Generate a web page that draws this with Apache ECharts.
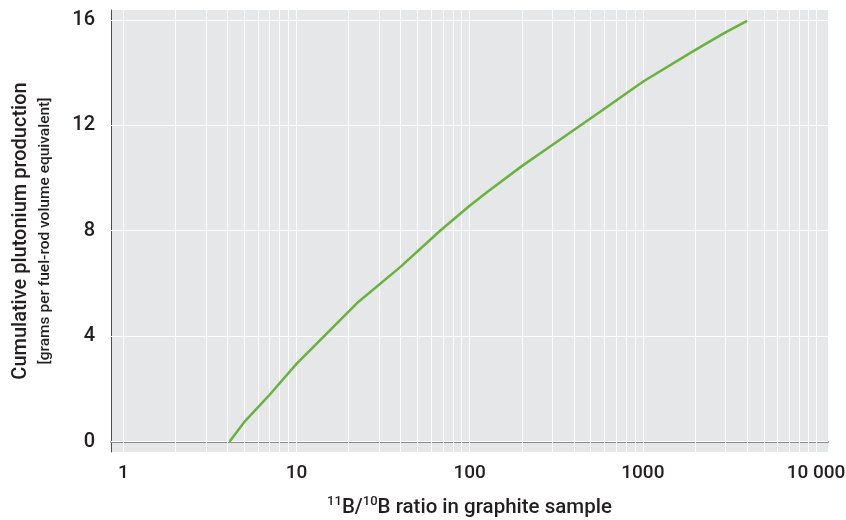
<!DOCTYPE html>
<html>
<head>
<meta charset="utf-8">
<title>Cumulative plutonium production</title>
<script src="https://cdn.jsdelivr.net/npm/echarts@6/dist/echarts.min.js"></script>
<style>
	html, body { margin: 0; padding: 0; background: #fff; }
	#chart { width: 846px; height: 520px; }
</style>
</head>
<body>
<div id="chart"></div>
<script>
// 11B/10B ratio (log x) and cumulative Pu production (y)
var ratio = [4.1, 5, 7, 10, 22.3, 40, 67.5, 100, 128, 200, 300, 567, 708, 1000, 2000, 3000, 4000];
var plutonium = [0, 0.75, 1.78, 2.95, 5.25, 6.64, 8.0, 8.95, 9.5, 10.45, 11.25, 12.51, 12.96, 13.65, 14.85, 15.52, 15.96];

var yTicks = [0, 4, 8, 12, 16];
var xTickValues = [1, 10, 100, 1000, 10000];
var xTickLabels = ['1', '10', '100', '1000', '10 000'];

var FONT = 'Roboto, "Liberation Sans", sans-serif';

var points = [];
for (var i = 0; i < ratio.length; i++) {
	points.push([ratio[i], plutonium[i]]);
}

// vertical grid lines at 1..9 of each decade, horizontal ones at the y ticks
var gridLines = [];
for (var d = 1; d <= 1000; d *= 10) {
	for (var m = 1; m <= 9; m++) {
		gridLines.push({ xAxis: m * d });
	}
}
gridLines.push({ xAxis: 10000 });
for (var k = 0; k < yTicks.length; k++) {
	gridLines.push({ yAxis: yTicks[k] });
}

var myChart = echarts.init(document.getElementById('chart'), null, { renderer: 'canvas' });

var option = {
	animation: false,
	backgroundColor: '#fff',
	grid: {
		left: 111,
		right: 18,
		top: 10,
		bottom: 68,
		show: true,
		backgroundColor: '#e6e7e8',
		borderWidth: 0,
		containLabel: false,
		outerBoundsMode: 'none'
	},
	xAxis: {
		type: 'log',
		logBase: 10,
		min: 0.849,
		max: 11730,
		axisLine: { show: true, lineStyle: { color: '#8c8c8c', width: 2 } },
		axisTick: { show: false },
		splitLine: { show: false },
		minorTick: { show: false },
		axisLabel: {
			margin: 12,
			fontSize: 19,
			fontWeight: 500,
			fontFamily: FONT,
			color: '#231f20',
			formatter: function (v) {
				for (var i = 0; i < xTickValues.length; i++) {
					if (Math.abs(v - xTickValues[i]) < 1e-6 * xTickValues[i]) return xTickLabels[i];
				}
				return '';
			}
		},
		name: '{sup|11}{b|B/}{sup|10}{b|B ratio in graphite sample}',
		nameLocation: 'middle',
		nameGap: 43,
		nameTextStyle: {
			rich: {
				b: { fontSize: 20.5, fontWeight: 500, lineHeight: 25, fontFamily: FONT, color: '#231f20' },
				sup: { fontSize: 13, fontWeight: 500, lineHeight: 15, verticalAlign: 'top', fontFamily: FONT, color: '#231f20' }
			}
		}
	},
	yAxis: {
		type: 'value',
		min: -0.39,
		max: 16.37,
		axisLine: { show: true, lineStyle: { color: '#4d4d4d', width: 1 } },
		axisTick: { show: false },
		splitLine: { show: false },
		axisLabel: {
			customValues: yTicks,
			margin: 16,
			fontSize: 20,
			fontWeight: 500,
			fontFamily: FONT,
			color: '#231f20'
		},
		name: '{a|Cumulative plutonium production}\n{b|[grams per fuel-rod volume equivalent]}',
		nameLocation: 'middle',
		nameRotate: 90,
		nameGap: 55,
		nameTextStyle: {
			rich: {
				a: { fontSize: 20, fontWeight: 500, lineHeight: 26, fontFamily: FONT, color: '#231f20' },
				b: { fontSize: 15.5, fontWeight: 500, lineHeight: 22, fontFamily: FONT, color: '#231f20' }
			}
		}
	},
	series: [
		{
			// white grid lines behind the curve
			type: 'line',
			data: [],
			z: 1,
			silent: true,
			markLine: {
				silent: true,
				symbol: ['none', 'none'],
				label: { show: false },
				emphasis: { disabled: true },
				lineStyle: { color: '#ffffff', width: 1, type: 'solid' },
				data: gridLines,
				z: 1
			}
		},
		{
			name: 'Pu',
			type: 'line',
			data: points,
			z: 10,
			showSymbol: false,
			symbol: 'none',
			smooth: false,
			lineStyle: { color: '#6ab23e', width: 2.5 }
		}
	]
};

myChart.setOption(option, true);
window.addEventListener('resize', function () {
	myChart.resize();
});
</script>
</body>
</html>
